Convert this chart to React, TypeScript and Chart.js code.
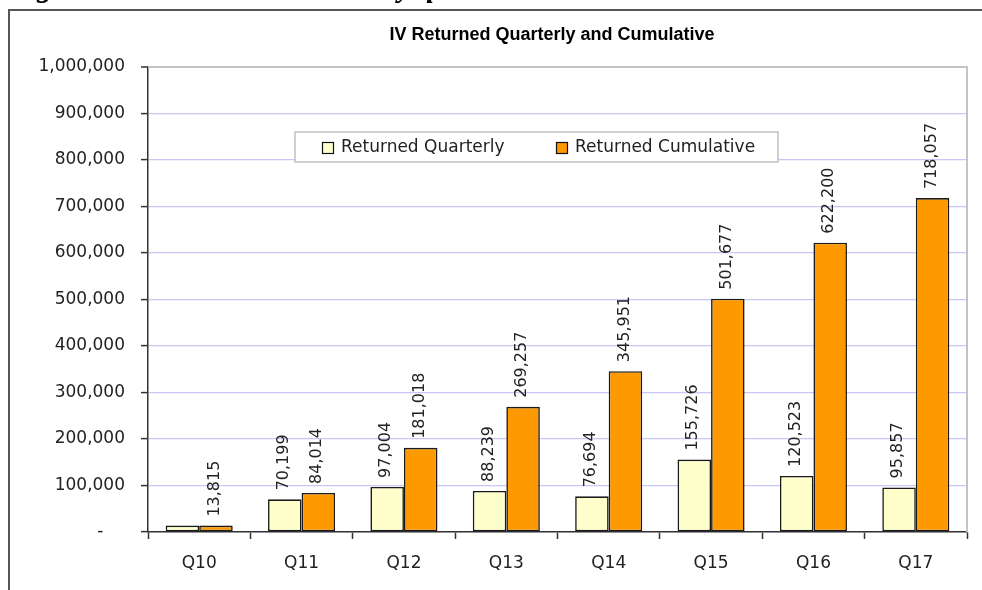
import React, { useEffect, useRef } from "react";
import { Chart, registerables } from "chart.js";

Chart.register(...registerables);

const categories = ["Q10", "Q11", "Q12", "Q13", "Q14", "Q15", "Q16", "Q17"];
const returnedQuarterly = [13815, 70199, 97004, 88239, 76694, 155726, 120523, 95857];
const returnedCumulative = [13815, 84014, 181018, 269257, 345951, 501677, 622200, 718057];
const quarterlyLabelShown = [false, true, true, true, true, true, true, true];
const cumulativeLabelShown = [true, true, true, true, true, true, true, true];
const seriesNames = ["Returned Quarterly", "Returned Cumulative"];
const yMin = 0;
const yMax = 1000000;
const yStep = 100000;
const chartTitle = "IV Returned Quarterly and Cumulative";
const caption = "Figure 30: Total returned IV by quarter and cumulative";

const QUARTERLY_COLOR = "#FFFFCC";
const CUMULATIVE_COLOR = "#FF9900";
const TEXT_COLOR = "#222222";
const FONT = "'DejaVu Sans', sans-serif";

const fmt = (v: number) => v.toLocaleString("en-US");

const decorPlugin = {
  id: "decor",
  beforeDatasetsDraw(chart: any) {
    const { ctx, chartArea } = chart;
    ctx.save();
    ctx.strokeStyle = "#c4c4c4";
    ctx.lineWidth = 2;
    ctx.beginPath();
    ctx.moveTo(chartArea.left, chartArea.top);
    ctx.lineTo(chartArea.right, chartArea.top);
    ctx.lineTo(chartArea.right, chartArea.bottom);
    ctx.stroke();
    ctx.restore();
  },
  afterDatasetsDraw(chart: any) {
    const { ctx } = chart;
    ctx.save();
    ctx.font = `16px ${FONT}`;
    ctx.fillStyle = TEXT_COLOR;
    ctx.textAlign = "left";
    ctx.textBaseline = "middle";
    const shown = [quarterlyLabelShown, cumulativeLabelShown];
    chart.data.datasets.forEach((ds: any, di: number) => {
      const meta = chart.getDatasetMeta(di);
      meta.data.forEach((el: any, i: number) => {
        if (!shown[di][i]) return;
        ctx.save();
        ctx.translate(el.x - 1, el.y - 9);
        ctx.rotate(-Math.PI / 2);
        ctx.fillText(fmt(ds.data[i]), 0, 0);
        ctx.restore();
      });
    });
    ctx.restore();
  },
  afterDraw(chart: any) {
    const { ctx } = chart;
    ctx.save();
    // title
    ctx.font = `bold 18px 'Liberation Sans', Arial, sans-serif`;
    ctx.fillStyle = "#000";
    ctx.textAlign = "center";
    ctx.textBaseline = "middle";
    ctx.fillText(chartTitle, 542, 23);
    // legend
    const bx = 285, by = 120, bw = 483, bh = 30;
    ctx.fillStyle = "#ffffff";
    ctx.fillRect(bx, by, bw, bh);
    ctx.strokeStyle = "#c0c0c0";
    ctx.lineWidth = 1.5;
    ctx.strokeRect(bx, by, bw, bh);
    const items = [
      { x: 312, tx: 331, color: QUARTERLY_COLOR, name: seriesNames[0] },
      { x: 546, tx: 565, color: CUMULATIVE_COLOR, name: seriesNames[1] },
    ];
    ctx.font = `17px ${FONT}`;
    ctx.textAlign = "left";
    ctx.textBaseline = "middle";
    items.forEach((it) => {
      ctx.fillStyle = it.color;
      ctx.fillRect(it.x, 130, 11, 11);
      ctx.strokeStyle = "#111";
      ctx.lineWidth = 1.2;
      ctx.strokeRect(it.x + 0.5, 130.5, 11, 11);
      ctx.fillStyle = TEXT_COLOR;
      ctx.fillText(it.name, it.tx, 136);
    });
    ctx.restore();
  },
};

function ChartView() {
  const ref = useRef<HTMLCanvasElement | null>(null);
  useEffect(() => {
    if (!ref.current) return;
    const chart = new Chart(ref.current, {
      type: "bar",
      data: {
        labels: categories,
        datasets: [
          {
            label: seriesNames[0],
            data: returnedQuarterly,
            backgroundColor: QUARTERLY_COLOR,
            borderColor: "#1a1a1a",
            borderWidth: 1.6,
            borderSkipped: false,
            categoryPercentage: 0.655,
            barPercentage: 1.0,
          },
          {
            label: seriesNames[1],
            data: returnedCumulative,
            backgroundColor: CUMULATIVE_COLOR,
            borderColor: "#1a1a1a",
            borderWidth: 1.6,
            borderSkipped: false,
            categoryPercentage: 0.655,
            barPercentage: 1.0,
          },
        ],
      },
      options: {
        animation: false,
        responsive: false,
        devicePixelRatio: 1,
        layout: { padding: { top: 55, right: 15, bottom: 0, left: 0 } },
        plugins: {
          legend: { display: false },
          title: { display: false },
          tooltip: { enabled: false },
        },
        scales: {
          x: {
            offset: true,
            grid: {
              display: true,
              offset: true,
              drawOnChartArea: false,
              drawTicks: true,
              tickLength: 7,
              tickColor: "#333",
              tickWidth: 1.5,
            },
            border: { display: true, color: "#333", width: 1.5 },
            ticks: {
              color: TEXT_COLOR,
              font: { family: FONT, size: 17 },
              padding: 14,
              maxRotation: 0,
            },
            afterFit: (scale: any) => {
              scale.height = 58;
            },
          },
          y: {
            min: yMin,
            max: yMax,
            grid: {
              color: (c: any) => (c.tick && c.tick.value === yMax ? "#c4c4c4" : "#c8c8f6"),
              lineWidth: (c: any) => (c.tick && c.tick.value === yMax ? 2 : 1.2),
              tickColor: "#333",
              tickLength: 7,
              tickWidth: 1.5,
            },
            border: { display: true, color: "#333", width: 1.5 },
            ticks: {
              stepSize: yStep,
              color: TEXT_COLOR,
              font: { family: FONT, size: 17 },
              padding: 16,
              callback: (v: any) => (Number(v) === 0 ? "-\u2007\u2007" : fmt(Number(v))),
            },
            afterFit: (scale: any) => {
              scale.width = 138;
            },
          },
        },
      },
      plugins: [decorPlugin],
    });
    return () => chart.destroy();
  }, []);
  return (
    <canvas
      ref={ref}
      width={972}
      height={578}
      style={{ position: "fixed", left: 10, top: 12, width: 972, height: 578 }}
    />
  );
}

export default function App() {
  return (
    <div>
      <div
        style={{
          position: "fixed",
          left: 8,
          top: -25,
          font: "italic bold 31px 'Liberation Serif', serif",
          lineHeight: "22px",
          whiteSpace: "nowrap",
          color: "#000",
        }}
      >
        {caption}
      </div>
      <div
        style={{
          position: "fixed",
          left: 8,
          top: 9,
          width: 974,
          height: 581,
          boxSizing: "border-box",
          borderTop: "2px solid #555",
          borderLeft: "2px solid #555",
        }}
      />
      <ChartView />
    </div>
  );
}
